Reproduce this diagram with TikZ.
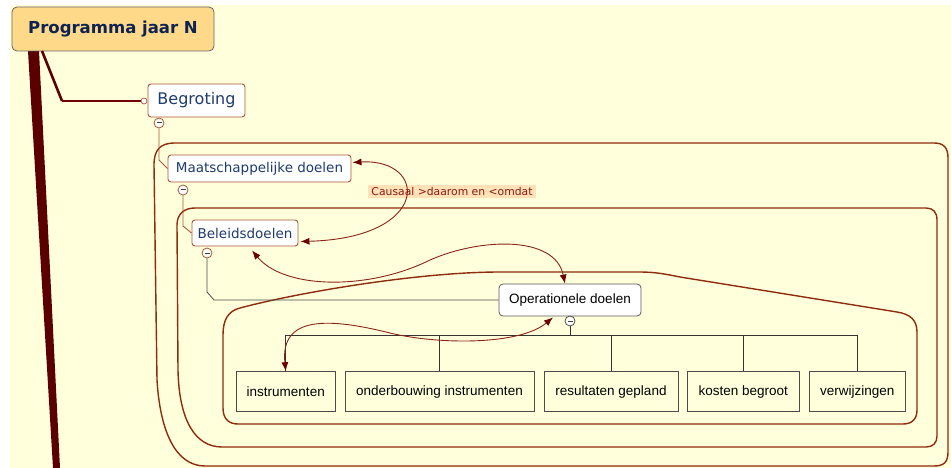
\documentclass[tikz,border=0pt]{standalone}
\usepackage{fontspec}
\newfontfamily\dv{DejaVu Sans}
\newfontfamily\lib{Liberation Sans}
\usetikzlibrary{arrows.meta,calc}
\definecolor{bg}{HTML}{FFFFDC}
\definecolor{progfill}{HTML}{FFD98A}
\definecolor{navy}{HTML}{0F2350}
\definecolor{nodetext}{HTML}{1E3C6E}
\definecolor{nodeborder}{HTML}{A85838}
\definecolor{bound}{HTML}{8E2C0E}
\definecolor{arr}{HTML}{8A2418}
\definecolor{arrhead}{HTML}{6A0000}
\definecolor{trunk}{HTML}{5A0000}
\definecolor{labelbg}{HTML}{FFE2B8}
\definecolor{labeltext}{HTML}{8A1A14}
\begin{document}
\begin{tikzpicture}[x=1pt,y=-1pt,
  prog/.style={draw=black!60, fill=progfill, rounded corners=5pt, minimum width=202pt, minimum height=44pt, inner sep=0pt, font=\dv\bfseries\fontsize{16.5}{20}\selectfont, text=navy, line width=0.8pt},
  topic/.style={draw=nodeborder, fill=white, rounded corners=3pt, inner sep=0pt, text=nodetext, line width=0.9pt, font=\dv\fontsize{13.5}{16}\selectfont},
  opnode/.style={draw=black!65, fill=white, rounded corners=4pt, inner sep=0pt, minimum width=142pt, minimum height=32pt, font=\lib\fontsize{13.5}{16}\selectfont, line width=0.8pt},
  leaf/.style={draw=black!70, fill=bg, inner sep=0pt, minimum height=40pt, font=\lib\fontsize{13.5}{16}\selectfont, line width=1pt},
  collapse/.style={circle, draw=nodeborder, fill=white, minimum size=10pt, inner sep=0pt, line width=0.8pt,
    path picture={\draw[line width=1pt, black!75] ([xshift=-2.5pt]path picture bounding box.center) -- ([xshift=2.5pt]path picture bounding box.center);}},
  boundary/.style={draw=bound, line width=1.4pt},
  tree/.style={draw=black!80, line width=0.8pt},
  brtree/.style={draw=nodeborder, line width=0.9pt},
  rel/.style={draw=arr, line width=0.9pt, {Latex[length=9pt,width=7pt,color=arrhead]}-{Latex[length=9pt,width=7pt,color=arrhead]}}
]
\useasboundingbox (0,0) rectangle (951,468);
\fill[white] (0,0) rectangle (951,468);
\fill[bg] (10,5) rectangle (951,468);

% boundaries
\draw[boundary] (175,143) -- (934,143) .. controls (944,143) and (948,148) .. (948,158) -- (948,452) .. controls (948,462) and (944,466) .. (934,466) -- (205,466) .. controls (175,466) and (160,430) .. (157,380) -- (154,165) .. controls (154,150) and (160,143) .. (175,143) -- cycle;
\draw[boundary] (195,208) -- (926,208) .. controls (933,208) and (937,212) .. (937,220) -- (937,436) .. controls (937,443) and (933,447) .. (926,447) -- (222,447) .. controls (195,447) and (179,420) .. (178,370) -- (177,225) .. controls (177,214) and (184,208) .. (195,208) -- cycle;
\draw[boundary] (240,308) .. controls (300,292) and (420,272) .. (500,272) -- (640,272) .. controls (655,272) and (665,274) .. (680,277) -- (897,312) .. controls (910,314) and (917,320) .. (917,332) -- (917,410) .. controls (917,419) and (912,424) .. (903,424) -- (238,424) .. controls (229,424) and (223,419) .. (223,408) -- (223,335) .. controls (223,320) and (228,311) .. (240,308) -- cycle;

% trunk
\fill[trunk] (28,51) -- (39,51) -- (60,468) -- (53,468) -- cycle;

% nodes
\node[prog] (prog) at (113,29) {Programma jaar N};
\node[topic, minimum width=97pt, minimum height=33pt, font=\dv\fontsize{16}{19}\selectfont] (begr) at (196.5,100.5) {Begroting};
\node[topic, minimum width=183pt, minimum height=27pt] (maat) at (259.5,168.5) {Maatschappelijke doelen};
\node[topic, minimum width=106pt, minimum height=26pt] (bel) at (245,233) {Beleidsdoelen};
\node[opnode] (oper) at (570,300) {Operationele doelen};

\node[leaf, minimum width=99.5pt] (instr) at (285.75,391.7) {instrumenten};
\node[leaf, minimum width=189pt] (onder) at (439.5,391.7) {onderbouwing instrumenten};
\node[leaf, minimum width=134pt] (res) at (611,391.7) {resultaten gepland};
\node[leaf, minimum width=111.5pt] (kost) at (743.25,391.7) {kosten begroot};
\node[leaf, minimum width=96.5pt] (verw) at (857.25,391.7) {verwijzingen};

% branch from Programma to Begroting
\node[circle, draw=nodeborder, fill=white, minimum size=6pt, inner sep=0pt, line width=0.7pt] (bc) at (144,101) {};
\coordinate (br0) at (42,51);
\coordinate (br1) at (62,101);
\draw[trunk, line width=2.6pt] (br0) -- (br1);
\draw[draw=trunk!85!red, line width=1.6pt] (br1) -- (bc.west);

% collapse buttons
\node[collapse] (c1) at (159,123) {};
\node[collapse] (c2) at (183,190) {};
\node[collapse] (c3) at (207,253) {};
\node[collapse, draw=black!70] (c4) at (570,321) {};

% tree connectors
\draw[brtree] (c1.south) -- (159,160) -- (maat.west);
\draw[brtree] (c2.south) -- (183,226) -- (bel.west);
\draw[tree, draw=black!70] (c3.south) -- (207,292) -- (214,300) -- (oper.west);
\coordinate (bus) at (570,335);
\draw[tree] (c4.south) -- (bus);
\draw[tree] (instr.north) -- (instr.north |- bus) -- (verw.north |- bus) -- (verw.north);
\draw[tree] (onder.north) -- (onder.north |- bus);
\draw[tree] (res.north) -- (res.north |- bus);
\draw[tree] (kost.north) -- (kost.north |- bus);

% label
\node[fill=labelbg, text=labeltext, font=\dv\fontsize{10.8}{13}\selectfont, inner xsep=3pt, inner ysep=2.5pt] (lab) at (452,191.5) {Causaal >daarom en <omdat};

% relationship arrows
\draw[rel] ([xshift=1pt,yshift=6pt]maat.east) .. controls (428,158) and (432,238) .. ([xshift=2pt,yshift=-8.5pt]bel.east);
\draw[rel] ([xshift=7pt,yshift=-4pt]bel.south) .. controls (285,290) and (370,290) .. (430,260) .. controls (480,238) and (555,235) .. ([xshift=-5pt]oper.north);
\draw[rel] ([xshift=-17pt,yshift=-1pt]oper.south) .. controls (520,345) and (440,345) .. (390,333) .. controls (330,318) and (280,315) .. (instr.north);
\end{tikzpicture}
\end{document}
